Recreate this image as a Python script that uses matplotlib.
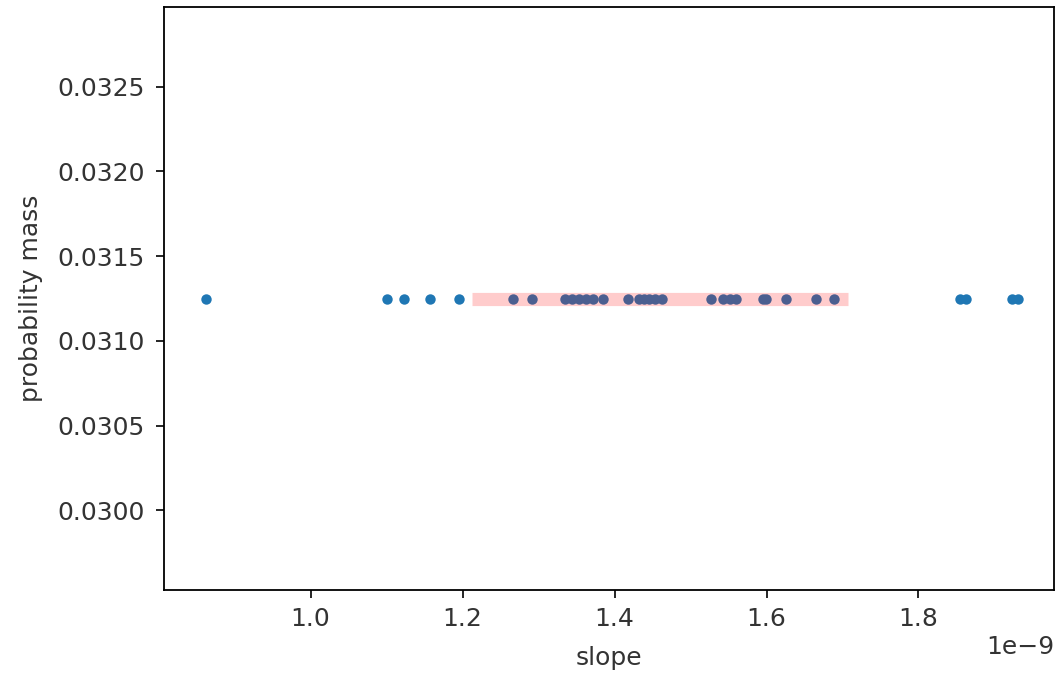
import matplotlib
matplotlib.use("Agg")
import matplotlib.pyplot as plt


# slope samples (units of 1e-9), each with equal probability mass
slopes = [
    0.8628, 1.1007, 1.1230, 1.1572, 1.1953, 1.2662, 1.2912,
    1.3346, 1.3438, 1.3530, 1.3622, 1.3714, 1.3845, 1.4174,
    1.4318, 1.4384, 1.4450, 1.4529, 1.4621, 1.5265, 1.5423,
    1.5515, 1.5594, 1.5949, 1.5988, 1.6251, 1.6645, 1.6882,
    1.8549, 1.8628, 1.9233, 1.9312,
]
mass = 1 / 32

# interval shown as the red band
interval = [1.2123, 1.7077]


x = [s * 1e-9 for s in slopes]
y = [mass] * len(x)

fs = 18

fig = plt.figure(figsize=(10.61, 6.76), dpi=100)
ax = fig.add_axes([0.1546, 0.1272, 0.8388, 0.8624])

ax.plot(x, y, "o", color="#1f77b4", markersize=7.5, markeredgewidth=0)
ax.plot([v * 1e-9 for v in interval], [mass, mass], color="red", alpha=0.2,
        linewidth=9.5, solid_capstyle="butt")

ax.set_xlim(0.8072e-9, 1.9783e-9)
ax.set_ylim(0.029531, 0.032969)
ax.set_xticks([1.0e-9, 1.2e-9, 1.4e-9, 1.6e-9, 1.8e-9])
ax.set_yticks([0.0300, 0.0305, 0.0310, 0.0315, 0.0320, 0.0325])

ax.set_xlabel("slope", fontsize=fs, color="#333333", labelpad=11)
ax.set_ylabel("probability mass", fontsize=fs, color="#333333", labelpad=10)
ax.tick_params(labelsize=fs, labelcolor="#333333", length=6, width=1.2, pad=8)
ax.tick_params(axis="x", pad=6)
ax.xaxis.get_offset_text().set_fontsize(fs)
ax.xaxis.get_offset_text().set_color("#333333")
for sp in ax.spines.values():
    sp.set_linewidth(1.3)

fig.savefig("out.png", dpi=100)
